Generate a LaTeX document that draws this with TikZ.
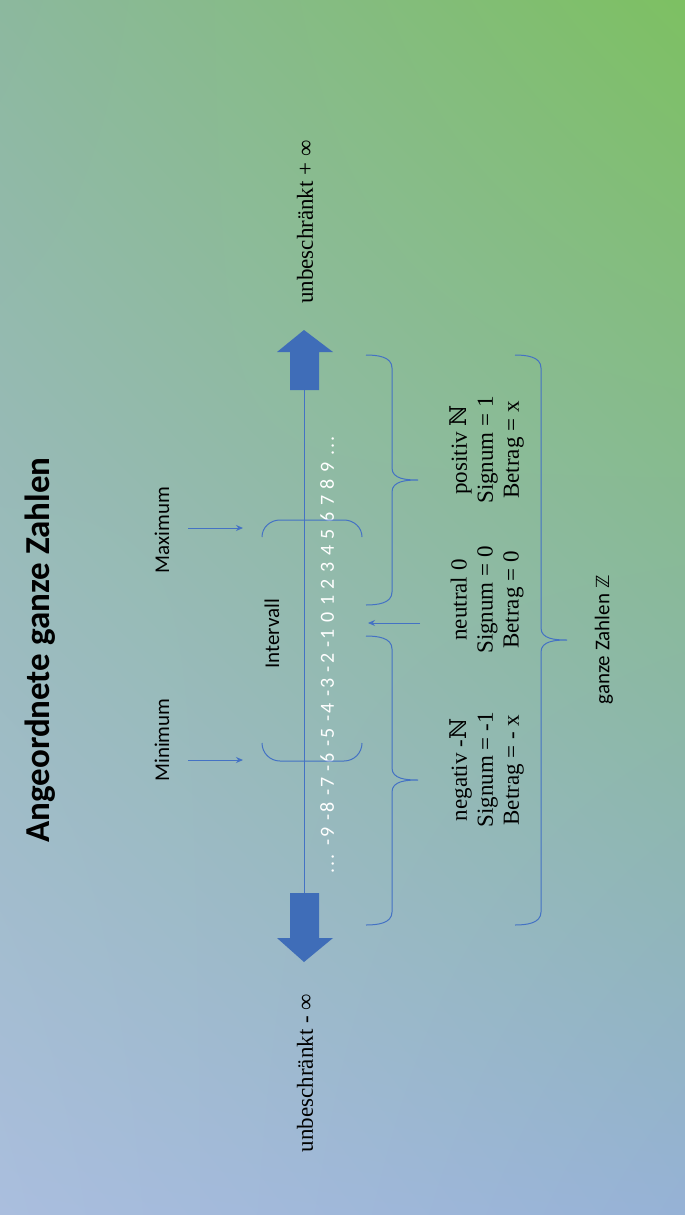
\documentclass[tikz,border=0pt]{standalone}
\usepackage{fontspec}
\setmainfont{Liberation Serif}
\newfontfamily\carl{Carlito}
\newfontfamily\dvs{DejaVu Serif}
\newfontfamily\dvss{DejaVu Sans}
\usetikzlibrary{arrows.meta,shadings}
\definecolor{lb}{HTML}{4472C4}
\definecolor{ab}{HTML}{3F6DB8}
\definecolor{cur}{RGB}{125,192,98}
\definecolor{cul}{RGB}{140,184,158}
\definecolor{cll}{RGB}{170,190,222}
\definecolor{clr}{RGB}{150,178,214}
\begin{document}
\begin{tikzpicture}[x=1pt,y=-1pt,
  ln/.style={draw=lb,line width=1pt},
  ar/.style={ln,-{Stealth[length=7pt,width=6pt]}},
  lab/.style={rotate=90,inner sep=0pt,font=\carl\fontsize{21}{24}\selectfont},
  slab/.style={rotate=90,inner sep=0pt,align=center,font=\fontsize{23}{26}\selectfont}]
\useasboundingbox (0,0) rectangle (685,1215);
\shade[upper right=cur,upper left=cul,lower left=cll,lower right=clr] (0,0) rectangle (685,1215);
% arrows
\fill[ab] (304,330) -- (333,352) -- (319,352) -- (319,390) -- (290,390) -- (290,352) -- (277,352) -- cycle;
\fill[ab] (304,962) -- (333,938) -- (319,938) -- (319,893) -- (290,893) -- (290,938) -- (277,938) -- cycle;
\coordinate (axT) at (304,390); \coordinate (axB) at (304,893);
\draw[ln] (axT) -- (axB);
\node[rotate=90,inner sep=0pt,text=white,font=\carl\fontsize{20}{22}\selectfont] (nums) at (327,655) {\addfontfeature{LetterSpace=10}... -9 -8 -7 -6 -5 -4 -3 -2 -1 0 1 2 3 4 5 6 7 8 9 ...};
% interval
\draw[ln] (262,537) to[out=90,in=180] (280,520) -- (344,520) to[out=0,in=90] (362,537);
\draw[ln] (262,743) to[out=-90,in=180] (280,761) -- (344,761) to[out=0,in=-90] (362,743);
\coordinate (maxS) at (188,528); \coordinate (maxE) at (243,528);
\coordinate (minS) at (188,760); \coordinate (minE) at (243,760);
\draw[ar] (maxS) -- (maxE);
\draw[ar] (minS) -- (minE);
\node[lab] (max) at (162,530) {Maximum};
\node[lab] (min) at (162,740) {Minimum};
\node[lab] (int) at (272,634) {Intervall};
% braces
\draw[ln] (366,355) to[out=0,in=90] (392,368) -- (392,468) to[out=-90,in=180] (418,480) to[out=180,in=90] (392,492) -- (392,592) to[out=-90,in=0] (366,605);
\draw[ln] (366,636) to[out=0,in=90] (392,649) -- (392,768) to[out=-90,in=180] (418,780) to[out=180,in=90] (392,792) -- (392,912) to[out=-90,in=0] (366,925);
\draw[ln] (515,355) to[out=0,in=90] (541,368) -- (541,628) to[out=-90,in=180] (567,640) to[out=180,in=90] (541,652) -- (541,912) to[out=-90,in=0] (515,925);
\coordinate (nS) at (420,623); \coordinate (nE) at (368,623);
\draw[ar] (nS) -- (nE);
\node[slab] (pos) at (487,450) {positiv {\dvs ℕ}\\Signum = 1\\Betrag = x};
\node[slab] (neu) at (487,600) {neutral 0\\Signum = 0\\Betrag = 0};
\node[slab] (neg) at (487,770) {negativ -{\dvs ℕ}\\Signum = -1\\Betrag = - x};
\node[lab] (gz) at (604,640) {ganze Zahlen {\dvss\fontsize{18}{20}\selectfont ℤ}};
\node[slab] (up) at (305,222) {unbeschränkt + ∞};
\node[slab] (um) at (305,1073) {unbeschränkt - ∞};
\node[rotate=90,inner sep=0pt,font=\carl\bfseries\fontsize{35}{38}\selectfont] (title) at (40,650) {Angeordnete ganze Zahlen};
\end{tikzpicture}
\end{document}
